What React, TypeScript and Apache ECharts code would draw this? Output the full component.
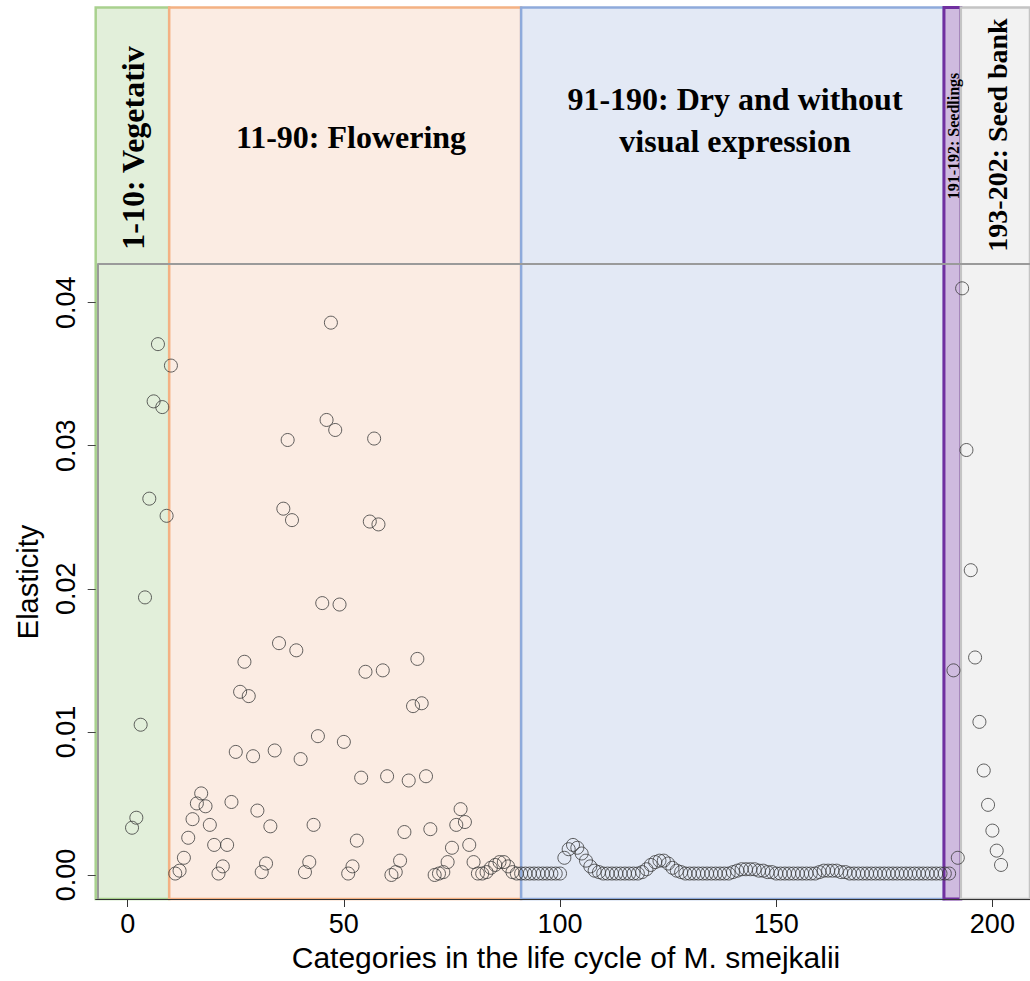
import React, { useEffect, useRef } from "react";
import * as echarts from "echarts";

// Elasticity values per life-cycle category, split by stage
const vegetative = [0.0033, 0.004, 0.0105, 0.0194, 0.0263, 0.0331, 0.0371, 0.0327, 0.0251, 0.0356];
const flowering = [
  0.0001, 0.0003, 0.0012, 0.0026, 0.0039, 0.005, 0.0057, 0.0048, 0.0035, 0.0021,
  0.0001, 0.0006, 0.0021, 0.0051, 0.0086, 0.0128, 0.0149, 0.0125, 0.0083, 0.0045,
  0.0002, 0.0008, 0.0034, 0.0087, 0.0162, 0.0256, 0.0304, 0.0248, 0.0157, 0.0081,
  0.0002, 0.0009, 0.0035, 0.0097, 0.019, 0.0318, 0.0386, 0.0311, 0.0189, 0.0093,
  0.0001, 0.0006, 0.0024, 0.0068, 0.0142, 0.0247, 0.0305, 0.0245, 0.0143, 0.0069,
  0.0, 0.0002, 0.001, 0.003, 0.0066, 0.0118, 0.0151, 0.012, 0.0069, 0.0032,
  0.0, 0.0001, 0.0002, 0.0009, 0.0019, 0.0035, 0.0046, 0.0037, 0.0021, 0.0009,
  0.0001, 0.0001, 0.0002, 0.0005, 0.0007, 0.0009, 0.0009, 0.0006, 0.0002, 0.0001,
];
const dry = [
  0.0001, 0.0001, 0.0001, 0.0001, 0.0001, 0.0001, 0.0001, 0.0001, 0.0001, 0.0001,
  0.0012, 0.0018, 0.0021, 0.0019, 0.0015, 0.001, 0.0006, 0.0003, 0.0002, 0.0001,
  0.0001, 0.0001, 0.0001, 0.0001, 0.0001, 0.0001, 0.0001, 0.0001, 0.0002, 0.0004,
  0.0007, 0.0009, 0.001, 0.001, 0.0008, 0.0005, 0.0003, 0.0002, 0.0001, 0.0001,
  0.0001, 0.0001, 0.0001, 0.0001, 0.0001, 0.0001, 0.0001, 0.0001, 0.0001, 0.0002,
  0.0003, 0.0004, 0.0004, 0.0004, 0.0004, 0.0003, 0.0003, 0.0002, 0.0002, 0.0001,
  0.0001, 0.0001, 0.0001, 0.0001, 0.0001, 0.0001, 0.0001, 0.0001, 0.0001, 0.0002,
  0.0003, 0.0003, 0.0003, 0.0003, 0.0002, 0.0002, 0.0001, 0.0001, 0.0001, 0.0001,
  0.0001, 0.0001, 0.0001, 0.0001, 0.0001, 0.0001, 0.0001, 0.0001, 0.0001, 0.0001,
  0.0001, 0.0001, 0.0001, 0.0001, 0.0001, 0.0001, 0.0001, 0.0001, 0.0001, 0.0001,
];
const seedlings = [0.0143, 0.0012];
const seedBank = [0.041, 0.0297, 0.0213, 0.0152, 0.0107, 0.0073, 0.0049, 0.0031, 0.0017, 0.0007];

const xTicks = [0, 50, 100, 150, 200];
const yTicks = [0, 0.01, 0.02, 0.03, 0.04];
const yTickLabels = ["0.00", "0.01", "0.02", "0.03", "0.04"];

// stage bands (x boundaries) and their labels
const bandEdges = [-7.4, 9.6, 91, 188.8, 192.7, 208.7];
const bandLabels = [
  "1-10: Vegetativ",
  "11-90: Flowering",
  "91-190: Dry and without\nvisual expression",
  "191-192: Seedlings",
  "193-202: Seed bank",
];
const bandFill = ["#e2efda", "#fbece3", "#e3e9f5", "#cfbbdf", "#f2f2f2"];
const bandBorder = ["#a9d18e", "#f4b183", "#8eaadb", "#7030a0", "#c4c4c4"];
const bandBorderWidth = [2.5, 2.5, 2.5, 3, 2.5];

const xMin = -7.4;
const xMax = 208.7;
const yMin = -0.00168;
const yMax = 0.06062;
const boxLeft = -7.04;
const boxTop = 0.0427;

const serif = "Liberation Serif";
const sans = "Liberation Sans";

export default function App() {
  const ref = useRef<HTMLDivElement>(null);

  useEffect(() => {
    const chart = echarts.init(ref.current!, undefined, { renderer: "svg" });
    const values = [...vegetative, ...flowering, ...dry, ...seedlings, ...seedBank];
    const points = values.map((v, i) => [i + 1, v]);

    const bands = bandLabels.map((_, i) => [
      {
        xAxis: bandEdges[i],
        itemStyle: {
          color: bandFill[i],
          borderColor: bandBorder[i],
          borderWidth: bandBorderWidth[i],
        },
      },
      { xAxis: bandEdges[i + 1] },
    ]);

    const labelStyle = (size: number) => ({
      fontSize: size,
      fontWeight: "bold",
      fontFamily: serif,
      fill: "#000",
      align: "center",
      verticalAlign: "middle",
    });

    chart.setOption({
      animation: false,
      backgroundColor: "#ffffff",
      grid: { left: 95.7, right: 0, top: 7.6, bottom: 82, containLabel: false },
      xAxis: {
        type: "value",
        min: xMin,
        max: xMax,
        z: 5,
        axisLine: { show: true, onZero: false, lineStyle: { color: "#333", width: 1 } },
        axisTick: { show: true, customValues: xTicks, length: 8, lineStyle: { color: "#333" } },
        axisLabel: {
          customValues: xTicks,
          margin: 11,
          fontSize: 27,
          fontFamily: sans,
          color: "#000",
        },
        splitLine: { show: false },
      },
      yAxis: {
        type: "value",
        min: yMin,
        max: yMax,
        z: 5,
        axisLine: { show: false, onZero: false },
        axisTick: { show: true, customValues: yTicks, length: 8, lineStyle: { color: "#444" } },
        axisLabel: {
          customValues: yTicks,
          rotate: 90,
          margin: 16,
          fontSize: 27,
          fontFamily: sans,
          color: "#000",
          formatter: (v: number) => {
            const k = yTicks.findIndex((t) => Math.abs(t - v) < 1e-9);
            return k >= 0 ? yTickLabels[k] : "";
          },
        },
        splitLine: { show: false },
      },
      series: [
        {
          type: "line",
          data: [],
          z: 1,
          silent: true,
          markArea: { silent: true, data: bands, label: { show: false } },
        },
        {
          type: "scatter",
          z: 2,
          clip: false,
          data: points,
          symbol: "circle",
          symbolSize: 13,
          itemStyle: { color: "rgba(0,0,0,0)", borderColor: "#3a3a3a", borderWidth: 1 },
          markLine: {
            silent: true,
            symbol: ["none", "none"],
            label: { show: false },
            lineStyle: { color: "#9a9a9a", type: "solid", width: 2 },
            data: [
              [{ coord: [boxLeft, boxTop] }, { coord: [xMax, boxTop] }],
              [{ coord: [boxLeft, yMin] }, { coord: [boxLeft, boxTop] }],
            ],
          },
        },
      ],
      graphic: [
        { type: "text", x: 133, y: 148, rotation: Math.PI / 2, z: 10, style: { text: bandLabels[0], ...labelStyle(32) } },
        { type: "text", x: 351, y: 137, z: 10, style: { text: bandLabels[1], ...labelStyle(32) } },
        { type: "text", x: 735, y: 120, z: 10, style: { text: bandLabels[2], lineHeight: 42, ...labelStyle(32) } },
        { type: "text", x: 953, y: 136, rotation: Math.PI / 2, z: 10, style: { text: bandLabels[3], ...labelStyle(16) } },
        { type: "text", x: 997, y: 135, rotation: Math.PI / 2, z: 10, style: { text: bandLabels[4], ...labelStyle(28) } },
        {
          type: "text",
          x: 28,
          y: 582,
          rotation: Math.PI / 2,
          z: 10,
          style: { text: "Elasticity", fontSize: 29, fontFamily: sans, fill: "#000", align: "center", verticalAlign: "middle" },
        },
        {
          type: "text",
          x: 566,
          y: 957,
          z: 10,
          style: {
            text: "Categories in the life cycle of M. smejkalii",
            fontSize: 30,
            fontFamily: sans,
            fill: "#000",
            align: "center",
            verticalAlign: "middle",
          },
        },
      ],
    });

    return () => chart.dispose();
  }, []);

  return <div ref={ref} style={{ position: "fixed", left: 0, top: 0, width: 1030, height: 981 }} />;
}
